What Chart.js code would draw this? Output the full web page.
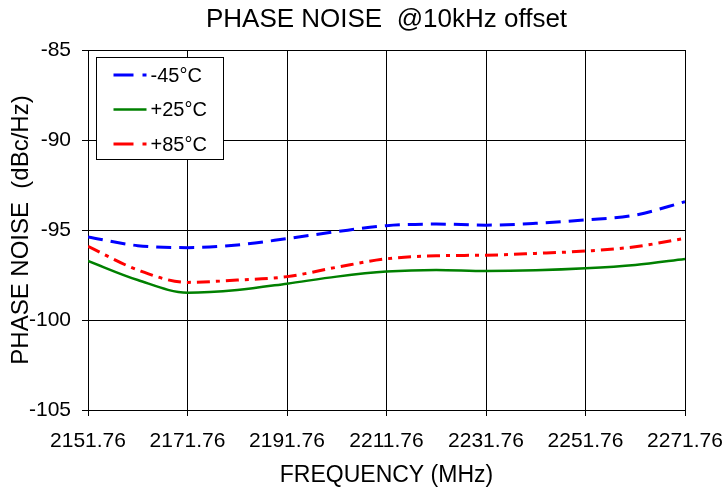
<!DOCTYPE html>
<html>
<head>
<meta charset="utf-8">
<script src="https://cdn.jsdelivr.net/npm/chart.js@4"></script>
<style>
  body { margin: 0; background: #fff; }
</style>
</head>
<body>
<canvas id="noiseChart" width="723" height="489"></canvas>
<script>
// frequency points (MHz)
var freqs = [2151.76, 2161.76, 2171.76, 2181.76, 2191.76, 2201.76, 2211.76,
             2221.76, 2231.76, 2241.76, 2251.76, 2261.76, 2271.76];
var xTicks = [2151.76, 2171.76, 2191.76, 2211.76, 2231.76, 2251.76, 2271.76];
var yTicks = [-105, -100, -95, -90, -85];

var chartTitle = 'PHASE NOISE  @10kHz offset';
var seriesNames = ['-45°C', '+25°C', '+85°C'];
// phase noise in dBc/Hz
var noiseM45 = [-95.39, -95.87, -95.98, -95.83, -95.48, -95.09, -94.76,
                -94.67, -94.73, -94.63, -94.44, -94.17, -93.43];
var noiseP25 = [-96.72, -97.78, -98.48, -98.33, -97.98, -97.59, -97.31,
                -97.22, -97.28, -97.24, -97.13, -96.94, -96.61];
var noiseP85 = [-95.91, -97.22, -97.91, -97.78, -97.59, -97.07, -96.60,
                -96.43, -96.40, -96.30, -96.17, -95.93, -95.46];

var FONT = '"Liberation Sans", Arial, Helvetica, sans-serif';
Chart.defaults.font.family = FONT;
Chart.defaults.color = '#000';

function toPoints(ys) {
  return freqs.map(function(f, i) { return { x: f, y: ys[i] }; });
}

// title centred over the plot area
var plotTitle = {
  id: 'plotTitle',
  afterDraw: function(chart) {
    var ctx = chart.ctx;
    var area = chart.chartArea;
    ctx.save();
    ctx.font = '26px ' + FONT;
    ctx.fillStyle = '#000';
    ctx.textAlign = 'center';
    ctx.textBaseline = 'middle';
    ctx.fillText(chartTitle, (area.left + area.right) / 2, 20);
    ctx.restore();
  }
};

// legend box drawn inside the plot, upper left
var insideLegend = {
  id: 'insideLegend',
  afterDraw: function(chart) {
    var ctx = chart.ctx;
    var area = chart.chartArea;
    var x0 = Math.round(area.left + 8) + 0.5;
    var y0 = Math.round(area.top + 7) + 0.5;
    var w = 127, h = 102;
    ctx.save();
    ctx.fillStyle = '#fff';
    ctx.fillRect(x0, y0, w, h);
    ctx.strokeStyle = '#000';
    ctx.lineWidth = 1;
    ctx.strokeRect(x0, y0, w, h);

    ctx.font = '20px ' + FONT;
    ctx.textBaseline = 'middle';
    ctx.textAlign = 'left';
    chart.data.datasets.forEach(function(ds, i) {
      var yy = y0 + 17.5 + i * 34.5;
      ctx.beginPath();
      ctx.strokeStyle = ds.borderColor;
      ctx.lineWidth = ds.borderWidth;
      ctx.setLineDash(ds.borderDash && ds.borderDash.length ? [20, 9] : []);
      ctx.moveTo(x0 + 17, yy);
      ctx.lineTo(x0 + 50, yy);
      ctx.stroke();
      ctx.setLineDash([]);
      ctx.fillStyle = '#000';
      ctx.fillText(ds.label, x0 + 54, yy + 1);
    });
    ctx.restore();
  }
};

var ctx = document.getElementById('noiseChart').getContext('2d');
var chart = new Chart(ctx, {
  type: 'line',
  data: {
    datasets: [{
      label: seriesNames[0],
      data: toPoints(noiseM45),
      borderColor: '#0000ff',
      borderWidth: 3,
      borderDash: [15, 8],
      pointRadius: 0,
      cubicInterpolationMode: 'monotone'
    }, {
      label: seriesNames[1],
      data: toPoints(noiseP25),
      borderColor: '#008000',
      borderWidth: 2.5,
      borderDash: [],
      pointRadius: 0,
      cubicInterpolationMode: 'monotone'
    }, {
      label: seriesNames[2],
      data: toPoints(noiseP85),
      borderColor: '#ff0000',
      borderWidth: 3,
      borderDash: [13, 6, 4, 6],
      pointRadius: 0,
      cubicInterpolationMode: 'monotone'
    }]
  },
  options: {
    responsive: false,
    animation: false,
    layout: { padding: { left: 0, right: 38, top: 50, bottom: 0 } },
    plugins: {
      legend: { display: false },
      tooltip: { enabled: false },
      title: { display: false }
    },
    scales: {
      x: {
        type: 'linear',
        min: 2151.76,
        max: 2271.76,
        afterBuildTicks: function(scale) {
          scale.ticks = xTicks.map(function(v) { return { value: v }; });
        },
        afterFit: function(scale) {
          scale.height = 79;
          scale.paddingLeft = 0;
          scale.paddingRight = 0;
        },
        ticks: {
          autoSkip: false,
          maxRotation: 0,
          padding: 13,
          font: { size: 21 },
          color: '#000',
          callback: function(v) { return Number(v).toFixed(2); }
        },
        grid: { color: '#000', lineWidth: 1, tickLength: 6 },
        border: { color: '#000', width: 1 },
        title: {
          display: true,
          text: 'FREQUENCY (MHz)',
          font: { size: 23 },
          color: '#000',
          padding: { top: 0, bottom: 0 }
        }
      },
      y: {
        min: -105,
        max: -85,
        afterBuildTicks: function(scale) {
          scale.ticks = yTicks.map(function(v) { return { value: v }; });
        },
        afterFit: function(scale) {
          scale.width = 88;
          scale.paddingTop = 0;
          scale.paddingBottom = 0;
        },
        ticks: {
          padding: 11,
          font: { size: 21 },
          color: '#000'
        },
        grid: { color: '#000', lineWidth: 1, tickLength: 6 },
        border: { color: '#000', width: 1 },
        title: {
          display: true,
          text: 'PHASE NOISE  (dBc/Hz)',
          font: { size: 24 },
          color: '#000',
          padding: { top: 7, bottom: 0 }
        }
      }
    }
  },
  plugins: [plotTitle, insideLegend]
});
</script>
</body>
</html>
